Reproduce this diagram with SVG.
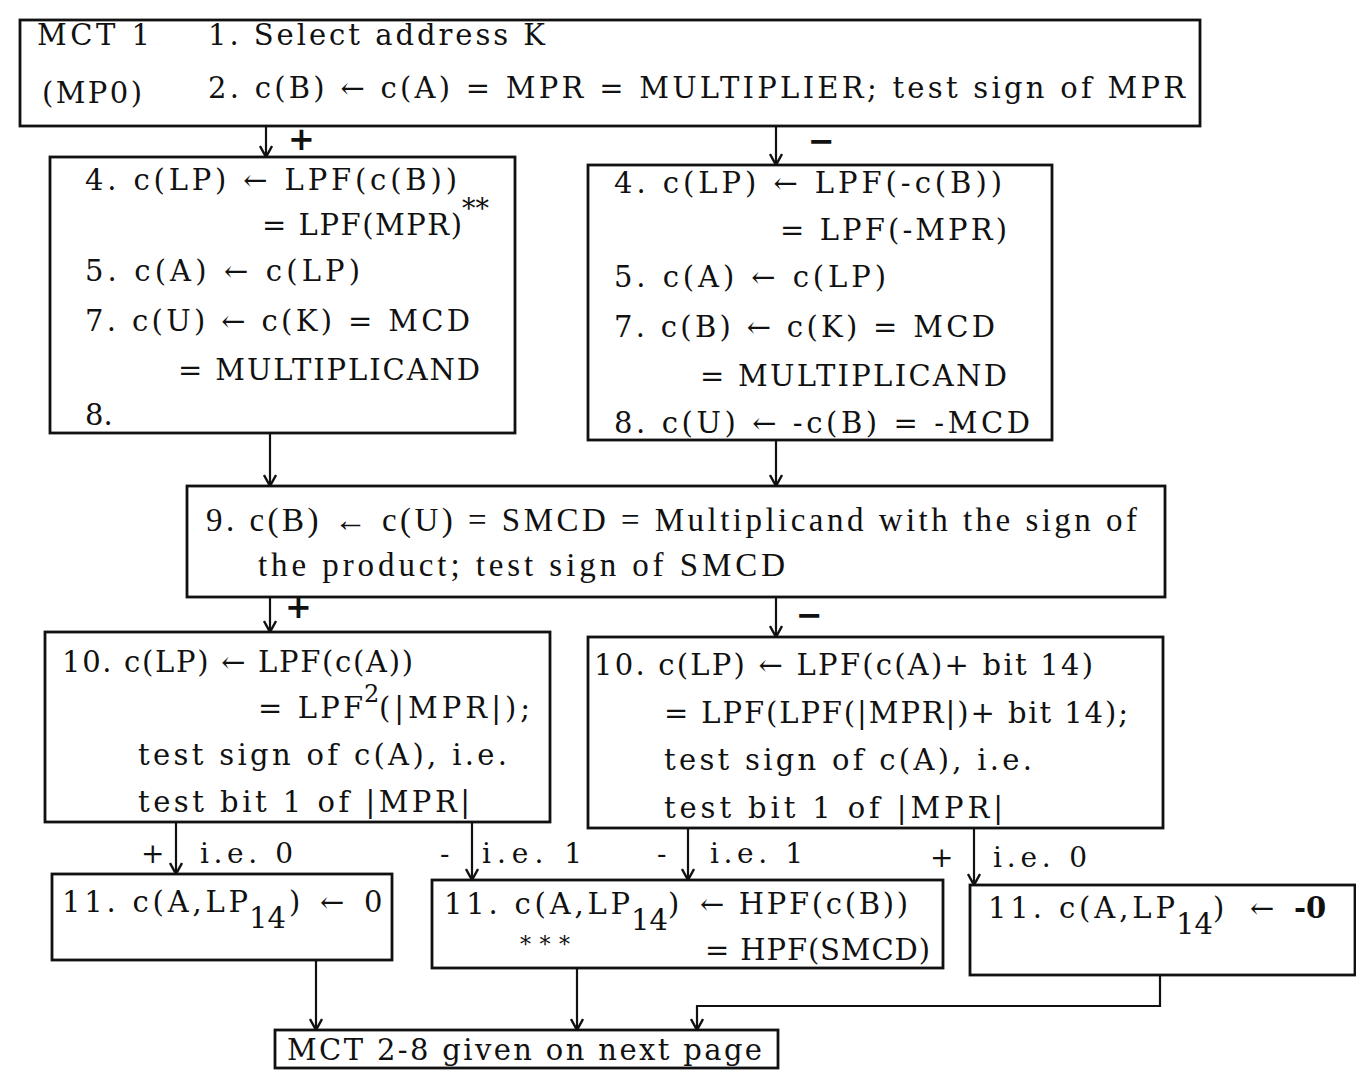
<svg xmlns="http://www.w3.org/2000/svg" width="1356" height="1072" viewBox="0 0 1356 1072">
<style>
.box{fill:none;stroke:#111;stroke-width:2.8}
.t{font-family:"DejaVu Serif","Liberation Serif",serif;font-size:29px;fill:#111}
.n{font-family:"Liberation Serif",serif;font-size:33px;fill:#111}
.s{font-family:"DejaVu Serif","Liberation Serif",serif;font-size:22px;fill:#111}
.c{fill:none;stroke:#111;stroke-width:2.2}
.l{font-family:"DejaVu Serif","Liberation Serif",serif;font-size:28px;fill:#111}
.sign{font-family:"DejaVu Sans",sans-serif;font-size:32px;fill:#111;font-weight:bold}
</style>
<defs>
<marker id="ah" viewBox="-1 -7 13 14" refX="11" refY="0" markerWidth="13" markerHeight="14" markerUnits="userSpaceOnUse" orient="auto">
<path d="M0,-6 L11,0 L0,6" fill="none" stroke="#111" stroke-width="2.4"/>
</marker>
</defs>
<rect width="1356" height="1072" fill="#fff"/>

<g id="n1">
<rect class="box" x="20" y="20" width="1180" height="106"/>
<text class="t" x="37" y="45" textLength="113" lengthAdjust="spacing">MCT 1</text>
<text class="t" x="42" y="103" textLength="100" lengthAdjust="spacing">(MP0)</text>
<text class="t" x="208" y="45" textLength="337" lengthAdjust="spacing">1. Select address K</text>
<text class="t" x="208" y="98" textLength="977" lengthAdjust="spacing">2. c(B) ← c(A) = MPR = MULTIPLIER; test sign of MPR</text>
</g>

<g id="n2">
<rect class="box" x="50" y="157" width="465" height="276"/>
<text class="t" x="85" y="190" textLength="372" lengthAdjust="spacing">4. c(LP) ← LPF(c(B))</text>
<text class="t" x="262" y="235" textLength="200" lengthAdjust="spacing">= LPF(MPR)</text>
<text class="s" x="462" y="218" style="font-size:27px">**</text>
<text class="t" x="85" y="281" textLength="275" lengthAdjust="spacing">5. c(A) ← c(LP)</text>
<text class="t" x="85" y="331" textLength="385" lengthAdjust="spacing">7. c(U) ← c(K) = MCD</text>
<text class="t" x="178" y="380" textLength="302" lengthAdjust="spacing">= MULTIPLICAND</text>
<text class="t" x="85" y="425">8.</text>
</g>

<g id="n3">
<rect class="box" x="588" y="165" width="464" height="275"/>
<text class="t" x="614" y="193" textLength="388" lengthAdjust="spacing">4. c(LP) ← LPF(-c(B))</text>
<text class="t" x="780" y="240" textLength="227" lengthAdjust="spacing">= LPF(-MPR)</text>
<text class="t" x="614" y="287" textLength="272" lengthAdjust="spacing">5. c(A) ← c(LP)</text>
<text class="t" x="614" y="337" textLength="381" lengthAdjust="spacing">7. c(B) ← c(K) = MCD</text>
<text class="t" x="700" y="386" textLength="307" lengthAdjust="spacing">= MULTIPLICAND</text>
<text class="t" x="614" y="433" textLength="416" lengthAdjust="spacing">8. c(U) ← -c(B) = -MCD</text>
</g>

<g id="n4">
<rect class="box" x="187" y="486" width="978" height="111"/>
<text class="n" x="206" y="531" textLength="931" lengthAdjust="spacing">9. c(B) ← c(U) = SMCD = Multiplicand with the sign of</text>
<text class="n" x="258" y="576" textLength="527" lengthAdjust="spacing">the product; test sign of SMCD</text>
</g>

<g id="n5">
<rect class="box" x="45" y="632" width="505" height="190"/>
<text class="t" x="62" y="672" textLength="351" lengthAdjust="spacing">10. c(LP) ← LPF(c(A))</text>
<text class="t" x="258" y="718" textLength="105" lengthAdjust="spacing">= LPF</text>
<text class="s" x="364" y="702" style="font-size:24px">2</text>
<text class="t" x="379" y="718" textLength="151" lengthAdjust="spacing">(|MPR|);</text>
<text class="t" x="138" y="765" textLength="369" lengthAdjust="spacing">test sign of c(A), i.e.</text>
<text class="t" x="138" y="812" textLength="332" lengthAdjust="spacing">test bit 1 of |MPR|</text>
</g>

<g id="n6">
<rect class="box" x="588" y="637" width="575" height="191"/>
<text class="t" x="594" y="675" textLength="499" lengthAdjust="spacing">10. c(LP) ← LPF(c(A)+ bit 14)</text>
<text class="t" x="664" y="723" textLength="464" lengthAdjust="spacing">= LPF(LPF(|MPR|)+ bit 14);</text>
<text class="t" x="664" y="770" textLength="368" lengthAdjust="spacing">test sign of c(A), i.e.</text>
<text class="t" x="664" y="818" textLength="339" lengthAdjust="spacing">test bit 1 of |MPR|</text>
</g>

<g id="n7">
<rect class="box" x="52" y="874" width="340" height="86"/>
<text class="t" x="62" y="912" textLength="186" lengthAdjust="spacing">11. c(A,LP</text>
<text class="t" x="249" y="928">14</text>
<text class="t" x="289" y="912">)</text>
<text class="t" x="320" y="912">←</text>
<text class="t" x="364" y="912">0</text>
</g>

<g id="n8">
<rect class="box" x="432" y="880" width="511" height="88"/>
<text class="t" x="444" y="914" textLength="186" lengthAdjust="spacing">11. c(A,LP</text>
<text class="t" x="631" y="930">14</text>
<text class="t" x="668" y="914">)</text>
<text class="t" x="700" y="914" textLength="208" lengthAdjust="spacing">← HPF(c(B))</text>
<text class="s" x="520" y="952" textLength="50" lengthAdjust="spacing">***</text>
<text class="t" x="705" y="960" textLength="225" lengthAdjust="spacing">= HPF(SMCD)</text>
</g>

<g id="n9">
<rect class="box" x="970" y="885" width="385" height="90"/>
<text class="t" x="988" y="918" textLength="187" lengthAdjust="spacing">11. c(A,LP</text>
<text class="t" x="1176" y="934">14</text>
<text class="t" x="1213" y="918">)</text>
<text class="t" x="1250" y="918">←</text>
<text class="t" x="1294" y="918" font-weight="bold">-0</text>
</g>

<g id="n10">
<rect class="box" x="275" y="1030" width="503" height="38"/>
<text class="t" x="287" y="1060" textLength="475" lengthAdjust="spacing">MCT 2-8 given on next page</text>
</g>

<g id="connectors">
<path class="c" d="M266,126 V157" marker-end="url(#ah)"/>
<path class="c" d="M776,126 V165" marker-end="url(#ah)"/>
<path class="c" d="M270,433 V486" marker-end="url(#ah)"/>
<path class="c" d="M776,440 V486" marker-end="url(#ah)"/>
<path class="c" d="M270,597 V632" marker-end="url(#ah)"/>
<path class="c" d="M776,597 V637" marker-end="url(#ah)"/>
<path class="c" d="M176,822 V874" marker-end="url(#ah)"/>
<path class="c" d="M472,822 V880" marker-end="url(#ah)"/>
<path class="c" d="M688,828 V880" marker-end="url(#ah)"/>
<path class="c" d="M974,828 V885" marker-end="url(#ah)"/>
<path class="c" d="M316,960 V1030" marker-end="url(#ah)"/>
<path class="c" d="M577,968 V1030" marker-end="url(#ah)"/>
<path class="c" d="M1160,975 V1006 H697 V1030" marker-end="url(#ah)"/>
<text class="sign" x="288" y="150">+</text>
<text class="sign" x="808" y="152">−</text>
<text class="sign" x="285" y="618">+</text>
<text class="sign" x="796" y="626">−</text>
<text class="l" x="141" y="863">+</text>
<text class="l" x="200" y="863" textLength="93" lengthAdjust="spacing">i.e. 0</text>
<text class="l" x="440" y="863">-</text>
<text class="l" x="482" y="863" textLength="100" lengthAdjust="spacing">i.e. 1</text>
<text class="l" x="657" y="863">-</text>
<text class="l" x="710" y="863" textLength="93" lengthAdjust="spacing">i.e. 1</text>
<text class="l" x="930" y="867">+</text>
<text class="l" x="993" y="867" textLength="94" lengthAdjust="spacing">i.e. 0</text>
</g>
</svg>
